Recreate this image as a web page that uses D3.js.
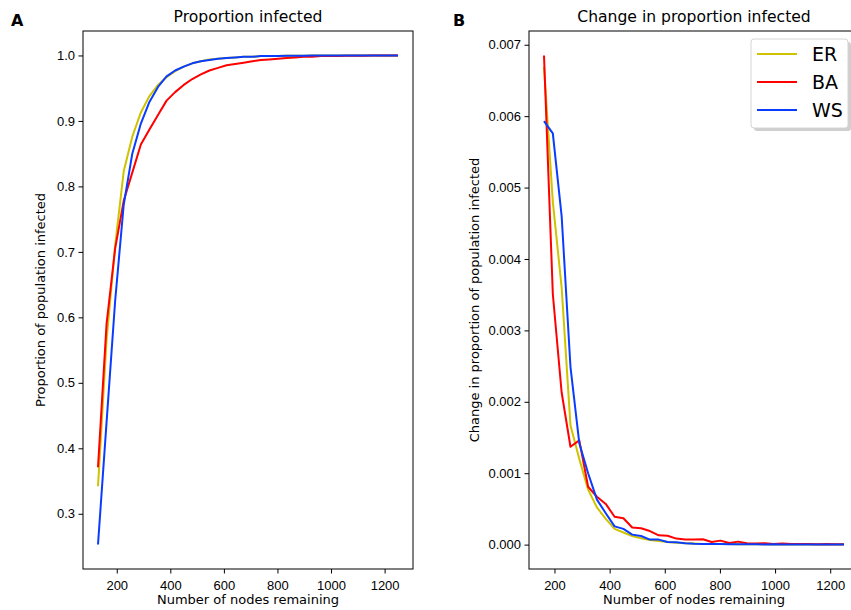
<!DOCTYPE html>
<html>
<head>
<meta charset="utf-8">
<script src="https://cdn.jsdelivr.net/npm/d3@7"></script>
<style>
  body { margin: 0; background: #fff; }
  svg { display: block; font-family: "DejaVu Sans", sans-serif; }
  .tick text { font-size: 13px; fill: #000; }
  .tick line { stroke: #000; }
</style>
</head>
<body>
<div id="chart"></div>
<script>
// Nodes remaining (x) for proportion infected, and for change (one step fewer)
const nodesAll = [130, 162, 194, 226, 258, 290, 322, 354, 386, 418, 450, 482, 514, 546, 578, 610, 642, 674,
  706, 738, 770, 802, 834, 866, 898, 930, 962, 994, 1026, 1058, 1090, 1122, 1154, 1186, 1218, 1250];
const nodesChange = [162, 194, 226, 258, 290, 322, 354, 386, 418, 450, 482, 514, 546, 578, 610, 642, 674,
  706, 738, 770, 802, 834, 866, 898, 930, 962, 994, 1026, 1058, 1090, 1122, 1154, 1186, 1218, 1250];

// Proportion infected
const erProp = [0.342, 0.565, 0.71, 0.823, 0.876, 0.913, 0.938, 0.955, 0.967, 0.976, 0.983, 0.988, 0.991, 0.994,
  0.995, 0.996, 0.997, 0.998, 0.998, 0.999, 0.999, 0.999, 0.9995, 0.9995, 0.9997, 0.9998, 0.9998, 0.9999,
  0.9999, 1, 1, 1, 1, 1, 1, 1];
const baProp = [0.371, 0.590, 0.705, 0.778, 0.821, 0.864, 0.887, 0.909, 0.931, 0.944, 0.955, 0.964, 0.971, 0.977,
  0.981, 0.985, 0.987, 0.989, 0.991, 0.993, 0.994, 0.995, 0.996, 0.997, 0.998, 0.998, 0.999, 0.999, 0.999,
  0.9995, 0.9995, 0.9997, 0.9998, 0.9999, 0.9999, 1];
const wsProp = [0.253, 0.44, 0.625, 0.772, 0.85, 0.896, 0.929, 0.952, 0.968, 0.977, 0.983, 0.988, 0.991, 0.993,
  0.995, 0.996, 0.997, 0.998, 0.998, 0.999, 0.999, 0.9993, 0.9995, 0.9996, 0.9997, 0.9998, 0.9998, 0.9999,
  0.9999, 1, 1, 1, 1, 1, 1, 1];

// Change in proportion infected (x 1e-3)
const erChange = [6.69, 4.8, 3.6, 1.67, 1.2, 0.77, 0.52, 0.36, 0.22, 0.17, 0.12, 0.09, 0.065, 0.05, 0.035, 0.025,
  0.02, 0.015, 0.01, 0.01, 0.008, 0.007, 0.006, 0.005, 0.004, 0.004, 0.003, 0.003, 0.002, 0.002, 0.002, 0.002,
  0.001, 0.001, 0.001];
const baChange = [6.85, 3.51, 2.13, 1.37, 1.46, 0.81, 0.67, 0.57, 0.39, 0.37, 0.24, 0.23, 0.19, 0.13, 0.125, 0.084,
  0.07, 0.07, 0.074, 0.037, 0.056, 0.023, 0.042, 0.02, 0.015, 0.02, 0.01, 0.015, 0.01, 0.008, 0.01, 0.005, 0.008,
  0.005, 0.004];
const wsChange = [5.93, 5.76, 4.6, 2.49, 1.42, 1.0, 0.63, 0.44, 0.255, 0.22, 0.14, 0.12, 0.07, 0.07, 0.037, 0.033,
  0.02, 0.012, 0.01, 0.01, 0.008, 0.006, 0.005, 0.004, 0.004, 0.003, 0.005, 0.003, 0.002, 0.002, 0.002, 0.001,
  0.001, 0.001, 0.001];

const seriesNames = ["ER", "BA", "WS"];
const colors = { ER: "#cfc300", BA: "#ff0000", WS: "#0a3cff" };

const leftTicksY = [0.3, 0.4, 0.5, 0.6, 0.7, 0.8, 0.9, 1.0];
const rightTicksY = [0, 0.001, 0.002, 0.003, 0.004, 0.005, 0.006, 0.007];
const ticksX = [200, 400, 600, 800, 1000, 1200];

const W = 851, H = 610;
const svg = d3.select("#chart").append("svg").attr("width", W).attr("height", H);

// pad domain like matplotlib (5%)
function padded(vals) {
  const [a, b] = d3.extent(vals);
  const p = (b - a) * 0.05;
  return [a - p, b + p];
}

function panel(opts) {
  const { left, top, width, height, xs, ys, title, ylabel, yticks, yfmt, letter, letterX, ylabelX } = opts;
  const g = svg.append("g").attr("transform", `translate(${left},${top})`);

  const x = d3.scaleLinear().domain(padded(xs[0])).range([0, width]);
  const allY = [].concat(...ys.map((s) => s.values));
  const y = d3.scaleLinear().domain(padded(allY)).range([height, 0]);

  g.append("g")
    .attr("transform", `translate(0,${height})`)
    .call(d3.axisBottom(x).tickValues(ticksX).tickSize(4.5).tickPadding(7.5).tickFormat(d3.format("d")))
    .call((a) => a.select(".domain").remove());

  g.append("g")
    .call(d3.axisLeft(y).tickValues(yticks).tickSize(4.5).tickPadding(3.5).tickFormat(yfmt))
    .call((a) => a.select(".domain").remove());

  const line = d3.line().x((d) => x(d[0])).y((d) => y(d[1]));

  ys.forEach((s, i) => {
    g.append("path")
      .datum(xs[i].map((v, j) => [v, s.values[j]]))
      .attr("fill", "none")
      .attr("stroke", colors[s.name])
      .attr("stroke-width", 2)
      .attr("stroke-linejoin", "round")
      .attr("d", line);
  });

  g.append("rect")
    .attr("width", width)
    .attr("height", height)
    .attr("fill", "none")
    .attr("stroke", "#000")
    .attr("stroke-width", 1);

  g.append("text")
    .attr("x", width / 2)
    .attr("y", -9)
    .attr("text-anchor", "middle")
    .attr("font-size", "15.6px")
    .text(title);

  g.append("text")
    .attr("x", width / 2)
    .attr("y", height + 34.5)
    .attr("text-anchor", "middle")
    .attr("font-size", "13px")
    .text("Number of nodes remaining");

  svg.append("text")
    .attr("transform", `translate(${ylabelX},${top + height / 2}) rotate(-90)`)
    .attr("text-anchor", "middle")
    .attr("font-size", "13px")
    .text(ylabel);

  svg.append("text")
    .attr("x", letterX)
    .attr("y", 26)
    .attr("font-size", "16px")
    .attr("font-weight", "bold")
    .text(letter);

  return { g, x, y };
}

panel({
  left: 83, top: 31, width: 330, height: 538,
  xs: [nodesAll, nodesAll, nodesAll],
  ys: [
    { name: "ER", values: erProp },
    { name: "BA", values: baProp },
    { name: "WS", values: wsProp }
  ],
  title: "Proportion infected",
  ylabel: "Proportion of population infected",
  yticks: leftTicksY,
  yfmt: d3.format(".1f"),
  letter: "A", letterX: 11, ylabelX: 45
});

const right = panel({
  left: 529, top: 31, width: 330, height: 538,
  xs: [nodesChange, nodesChange, nodesChange],
  ys: [
    { name: "ER", values: erChange.map((v) => v / 1000) },
    { name: "BA", values: baChange.map((v) => v / 1000) },
    { name: "WS", values: wsChange.map((v) => v / 1000) }
  ],
  title: "Change in proportion infected",
  ylabel: "Change in proportion of population infected",
  yticks: rightTicksY,
  yfmt: d3.format(".3f"),
  letter: "B", letterX: 453, ylabelX: 479
});

// Legend
const lg = svg.append("g").attr("transform", "translate(751,39)");
lg.append("rect")
  .attr("x", 3).attr("y", 3)
  .attr("width", 97).attr("height", 89)
  .attr("rx", 3)
  .attr("fill", "#cfcfcf");
lg.append("rect")
  .attr("width", 97).attr("height", 89)
  .attr("rx", 3)
  .attr("fill", "#fff")
  .attr("stroke", "#d4d4d4");
seriesNames.forEach((n, i) => {
  const yy = 15 + i * 28;
  lg.append("line")
    .attr("x1", 6).attr("x2", 46)
    .attr("y1", yy).attr("y2", yy)
    .attr("stroke", colors[n])
    .attr("stroke-width", 2);
  lg.append("text")
    .attr("x", 61)
    .attr("y", yy)
    .attr("dy", "0.36em")
    .attr("font-size", "19px")
    .text(n);
});
</script>
</body>
</html>
